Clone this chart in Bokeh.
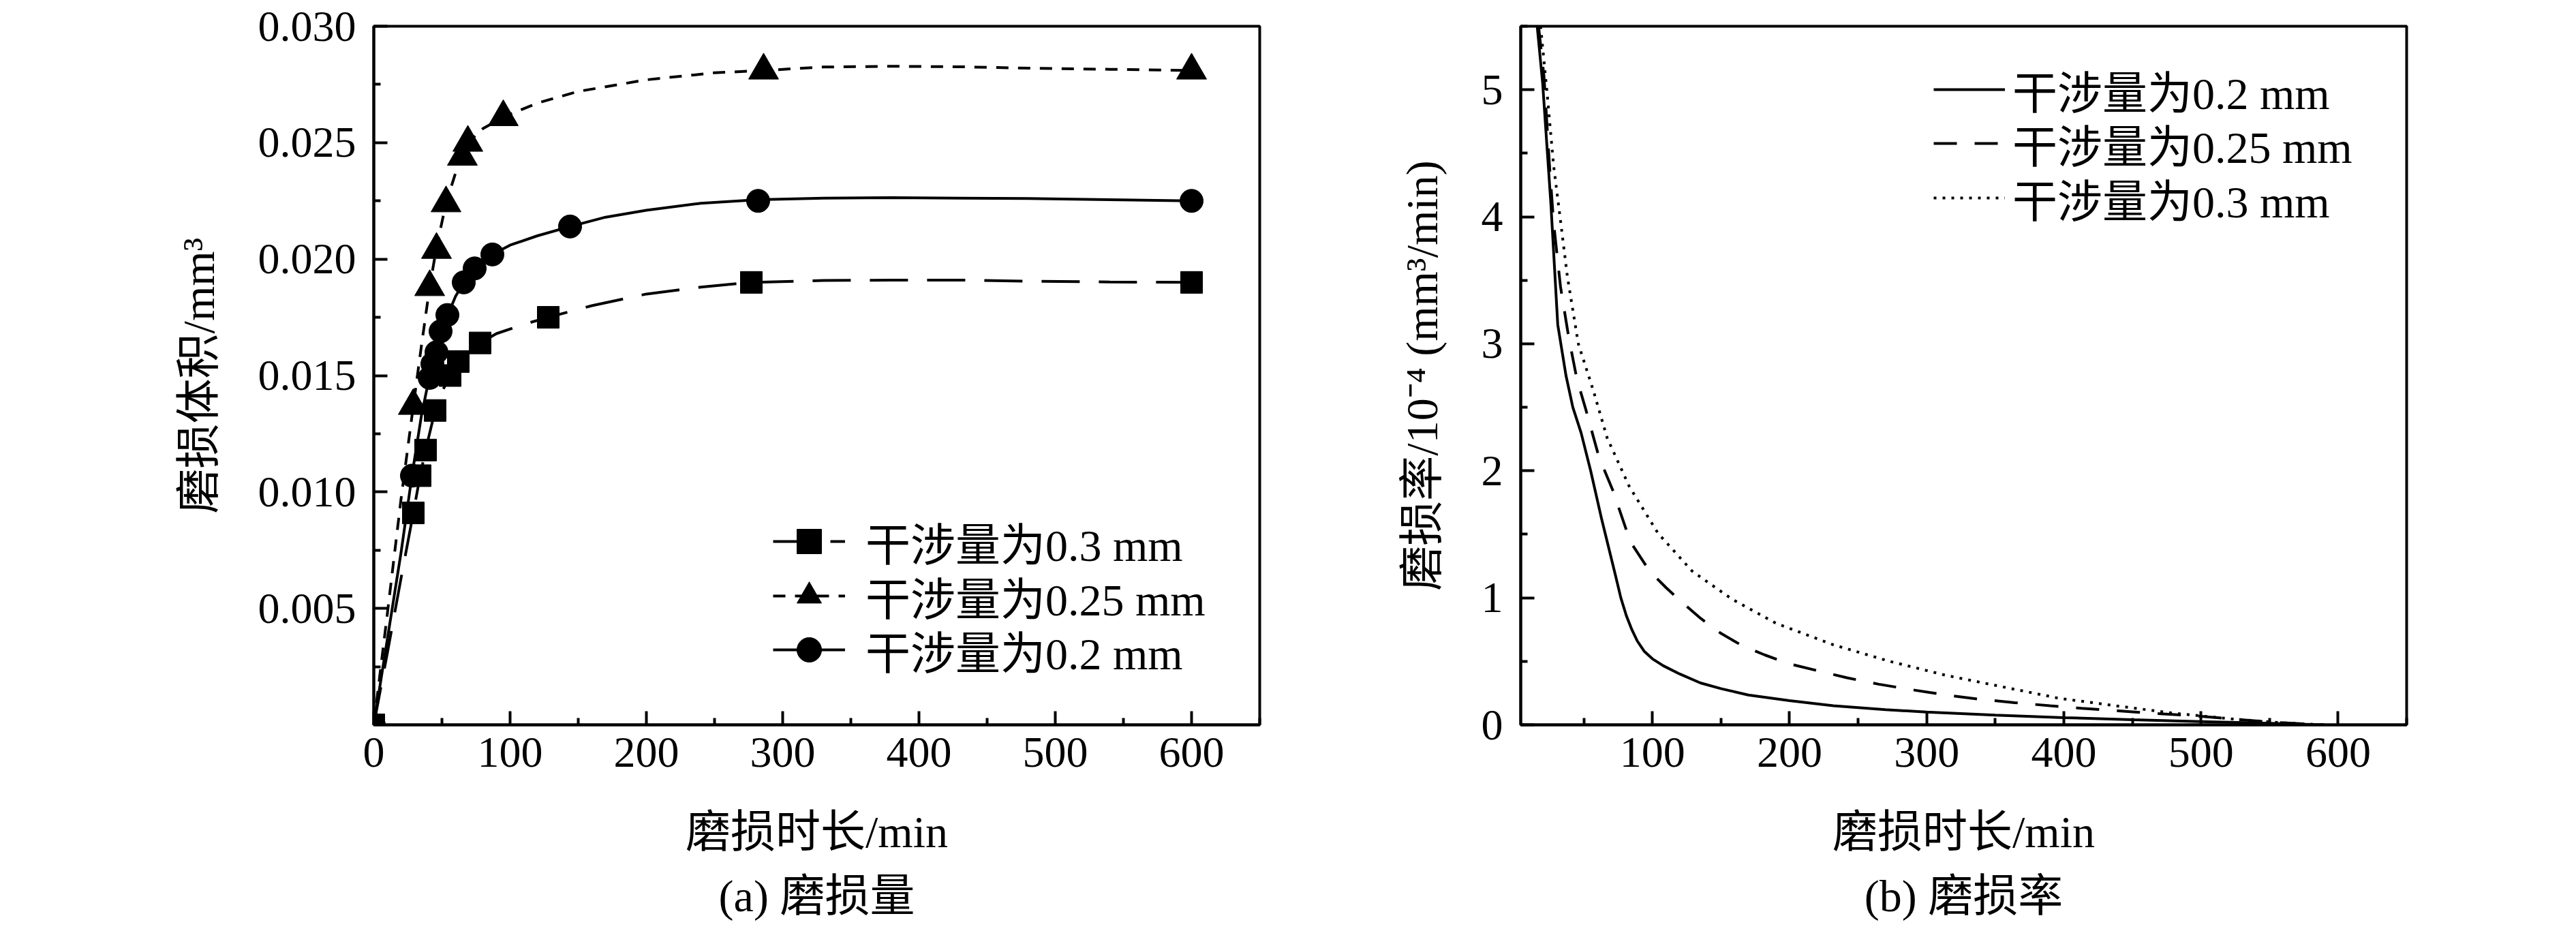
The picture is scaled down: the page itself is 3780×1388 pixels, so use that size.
from bokeh.plotting import figure
from bokeh.models import Range1d, FixedTicker, NumeralTickFormatter, Legend, LegendItem
from bokeh.layouts import row
from bokeh.embed import file_html
from bokeh.resources import INLINE

# ---------------- (a) wear volume: measured points ----------------
t_sq = [0, 29, 34, 38, 45, 56, 62, 78, 128, 277, 600]
v_sq = [0, 0.0091, 0.0107, 0.0118, 0.0135, 0.0150, 0.0156, 0.0164, 0.0175, 0.0190, 0.0190]
t_tri = [0, 29, 41, 46, 53, 65, 69, 95, 286, 600]
v_tri = [0, 0.0137, 0.0188, 0.0204, 0.0224, 0.0244, 0.0250, 0.0261, 0.0281, 0.0281]
t_cir = [0, 28, 41, 43, 46, 49, 54, 66, 74, 87, 144, 282, 600]
v_cir = [0, 0.0107, 0.0149, 0.0155, 0.0160, 0.0169, 0.0176, 0.0190, 0.0196, 0.0202, 0.0214, 0.0225, 0.0225]

# ---------------- (a) fitted curves ----------------
fit_sq_t = [0, 10, 20, 29, 34, 38, 45, 50, 56, 62, 70, 78, 90, 110, 128, 160, 200, 240, 277, 330, 380, 430, 480, 540, 600]
fit_sq_v = [0, 0.0031, 0.0063, 0.0091, 0.0107, 0.0118, 0.0135, 0.0143, 0.0150, 0.0156, 0.0160, 0.0164, 0.0168,
            0.0172, 0.0175, 0.0180, 0.0185, 0.0188, 0.0190, 0.01908, 0.0191, 0.0191, 0.01905, 0.01902, 0.0190]
fit_tri_t = [0, 10, 20, 29, 35, 41, 46, 53, 60, 65, 69, 80, 95, 120, 150, 200, 250, 286, 330, 380, 430, 480, 540, 600]
fit_tri_v = [0, 0.0048, 0.0097, 0.0137, 0.0163, 0.0188, 0.0205, 0.0224, 0.0237, 0.0244, 0.0250, 0.0256, 0.0261,
             0.0267, 0.0272, 0.0277, 0.0280, 0.0281, 0.02825, 0.02828, 0.02826, 0.0282, 0.02815, 0.0281]
fit_cir_t = [0, 10, 20, 28, 35, 41, 46, 50, 55, 60, 66, 74, 87, 100, 120, 144, 170, 200, 240, 282, 330, 380, 430, 480, 540, 600]
fit_cir_v = [0, 0.0037, 0.0074, 0.0107, 0.0133, 0.0150, 0.0160, 0.0169, 0.0177, 0.0184, 0.0190, 0.0196, 0.0202,
             0.0206, 0.0210, 0.0214, 0.0218, 0.0221, 0.0224, 0.02255, 0.02262, 0.02264, 0.02262, 0.0226, 0.02255, 0.0225]

# ---------------- (b) wear rate curves ----------------
rate_02_t = [16, 20, 26, 31, 37, 42, 48, 55, 63, 68, 73, 77, 81, 85, 89, 94, 100, 108, 120, 135, 150, 170, 200,
             232, 270, 300, 350, 400, 450, 500, 550, 590]
rate_02_v = [5.5, 5.05, 4.1, 3.15, 2.75, 2.5, 2.3, 2.0, 1.62, 1.40, 1.18, 1.0, 0.86, 0.75, 0.66, 0.58, 0.52, 0.465,
             0.40, 0.33, 0.285, 0.235, 0.19, 0.15, 0.12, 0.10, 0.077, 0.057, 0.04, 0.026, 0.012, 0.0]
rate_025_t = [17, 21, 25, 28, 33, 39, 45, 51, 61, 71, 84, 98, 110, 121, 135, 150, 166, 182, 200, 219, 242, 265, 290,
              314, 340, 364, 390, 413, 440, 462, 490, 512, 553, 590]
rate_025_v = [5.5, 5.1, 4.4, 3.95, 3.45, 3.05, 2.72, 2.5, 2.11, 1.85, 1.44, 1.21, 1.08, 0.97, 0.84, 0.72, 0.62, 0.55,
              0.48, 0.43, 0.37, 0.32, 0.275, 0.235, 0.2, 0.175, 0.15, 0.13, 0.11, 0.093, 0.075, 0.056, 0.02, 0.0]
rate_03_t = [18.5, 23, 28, 33, 38, 46, 57, 67, 83, 104, 129, 158, 190, 232, 273, 314, 355, 396, 438, 479, 520, 561, 590]
rate_03_v = [5.5, 5.0, 4.4, 3.97, 3.53, 3.0, 2.63, 2.26, 1.88, 1.51, 1.21, 0.99, 0.80, 0.63, 0.50, 0.39, 0.30, 0.21,
             0.15, 0.093, 0.049, 0.015, 0.0]

# ---------------- texts ----------------
labels_a = ["干涉量为0.3 mm", "干涉量为0.25 mm", "干涉量为0.2 mm"]
labels_b = ["干涉量为0.2 mm", "干涉量为0.25 mm", "干涉量为0.3 mm"]
x_title = "磨损时长/min"
y_title_a = "磨损体积/mm³"
y_title_b = "磨损率/10⁻⁴ (mm³/min)"
caption_a = "(a) 磨损量"
caption_b = "(b) 磨损率"
yticks_a = [0.005, 0.010, 0.015, 0.020, 0.025, 0.030]
xticks_a = [0, 100, 200, 300, 400, 500, 600]
xticks_b = [100, 200, 300, 400, 500, 600]
yticks_b = [0, 1, 2, 3, 4, 5]

FONT = "Liberation Serif, Noto Sans CJK SC"
TICK_FONT = "Liberation Serif"
TICK_FS = "64px"
LAB_FS = "66px"
H = 1372


def style(p):
    p.xgrid.visible = False
    p.ygrid.visible = False
    p.outline_line_color = "black"
    p.outline_line_width = 4
    p.outline_line_alpha = 1
    p.background_fill_color = "white"
    p.border_fill_color = "white"
    p.title.align = "center"
    p.title.text_font = FONT
    p.title.text_font_size = LAB_FS
    p.title.text_font_style = "normal"
    p.title.text_color = "black"
    p.title.standoff = 32
    for ax in (p.xaxis[0], p.yaxis[0]):
        ax.axis_line_width = 4
        ax.axis_line_color = "black"
        ax.major_tick_in = 20
        ax.major_tick_out = 0
        ax.minor_tick_in = 10
        ax.minor_tick_out = 0
        ax.major_tick_line_width = 4
        ax.minor_tick_line_width = 4
        ax.major_tick_line_color = "black"
        ax.minor_tick_line_color = "black"
        ax.major_label_text_font = TICK_FONT
        ax.major_label_text_font_size = TICK_FS
        ax.major_label_text_color = "black"
        ax.axis_label_text_font = FONT
        ax.axis_label_text_font_size = LAB_FS
        ax.axis_label_text_font_style = "normal"
        ax.axis_label_text_color = "black"
    p.xaxis[0].major_label_standoff = 19
    p.yaxis[0].major_label_standoff = 26
    p.xaxis[0].axis_label_standoff = 56
    p.yaxis[0].axis_label_standoff = 48


def legend_rows(p, items, x, ys, glyph_w, glyph_h, standoff):
    for item, y in zip(items, ys):
        p.add_layout(Legend(items=[item], location=(x, y), border_line_alpha=0,
                            background_fill_alpha=0, padding=0, margin=0, spacing=0,
                            glyph_width=glyph_w, glyph_height=glyph_h, label_height=glyph_h,
                            label_standoff=standoff, label_text_font=FONT,
                            label_text_font_size=LAB_FS, label_text_color="black"))


# ================= (a) =================
pa = figure(width=1900, height=H, x_range=Range1d(0, 650), y_range=Range1d(0, 0.030),
            output_backend="svg", toolbar_location=None, title=caption_a, title_location="below",
            min_border_left=548, min_border_right=52, min_border_top=38, min_border_bottom=H + 8 - 1072)
style(pa)
pa.xaxis[0].ticker = FixedTicker(ticks=xticks_a, minor_ticks=[50, 150, 250, 350, 450, 550, 650])
pa.yaxis[0].ticker = FixedTicker(ticks=yticks_a,
                                 minor_ticks=[0.0025, 0.0075, 0.0125, 0.0175, 0.0225, 0.0275])
pa.yaxis[0].formatter = NumeralTickFormatter(format="0.000")
pa.xaxis[0].axis_label = x_title
pa.yaxis[0].axis_label = y_title_a

l_sq = pa.line(fit_sq_t, fit_sq_v, line_color="black", line_width=4, line_dash="56 28")
l_tri = pa.line(fit_tri_t, fit_tri_v, line_color="black", line_width=4, line_dash="18 14")
l_cir = pa.line(fit_cir_t, fit_cir_v, line_color="black", line_width=4)
s_sq = pa.scatter(t_sq, v_sq, marker="square", size=32, color="black")
s_tri = pa.scatter(t_tri, v_tri, marker="triangle", size=44, color="black")
s_cir = pa.scatter(t_cir, v_cir, marker="circle", size=34, color="black")

legend_rows(pa, [LegendItem(label=labels_a[0], renderers=[l_sq, s_sq]),
                 LegendItem(label=labels_a[1], renderers=[l_tri, s_tri]),
                 LegendItem(label=labels_a[2], renderers=[l_cir, s_cir])],
            586, [221, 141, 62], 106, 90, 30)

# ================= (b) =================
pb = figure(width=1864, height=H, x_range=Range1d(4, 650), y_range=Range1d(0, 5.5),
            output_backend="svg", toolbar_location=None, title=caption_b, title_location="below",
            min_border_left=331, min_border_right=233, min_border_top=27, min_border_bottom=H + 8 - 1071)
style(pb)
pb.xaxis[0].ticker = FixedTicker(ticks=xticks_b, minor_ticks=[50, 150, 250, 350, 450, 550, 650])
pb.yaxis[0].ticker = FixedTicker(ticks=yticks_b, minor_ticks=[0.5, 1.5, 2.5, 3.5, 4.5, 5.5])
pb.xaxis[0].axis_label = x_title
pb.yaxis[0].axis_label = y_title_b

r02 = pb.line(rate_02_t, rate_02_v, line_color="black", line_width=4)
r025 = pb.line(rate_025_t, rate_025_v, line_color="black", line_width=4, line_dash="34 26")
r03 = pb.line(rate_03_t, rate_03_v, line_color="black", line_width=4, line_dash="4 9")

legend_rows(pb, [LegendItem(label=labels_b[0], renderers=[r02]),
                 LegendItem(label=labels_b[1], renderers=[r025]),
                 LegendItem(label=labels_b[2], renderers=[r03])],
            606, [884, 805, 725], 105, 78, 11)

layout = row(pa, pb)
open("out.html", "w").write(file_html(layout, INLINE))
